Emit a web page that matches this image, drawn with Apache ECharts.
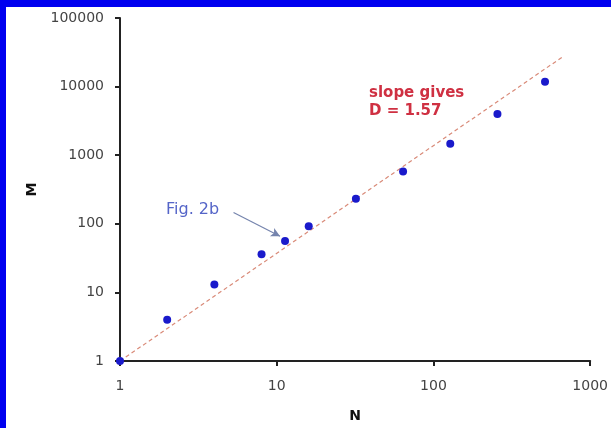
<!DOCTYPE html>
<html>
<head>
<meta charset="utf-8">
<script src="https://cdn.jsdelivr.net/npm/echarts@6/dist/echarts.min.js"></script>
<style>
  html, body { margin: 0; padding: 0; background: #fff; }
  #main { width: 611px; height: 428px; }
</style>
</head>
<body>
<div id="main"></div>
<script>
// measured points, N vs M
var nValues = [1, 2, 4, 8, 11.3, 16, 32, 64, 128, 256, 515];
var mValues = [1, 4, 13, 36, 56, 92, 232, 578, 1470, 4000, 11800];

// dashed fit line end points
var fitN = [1, 680];
var fitM = [1, 28000];

// arrow pointing at Fig. 2b point
var arrowFrom = [5.3, 146];
var arrowTo = [10.5, 66];

var points = nValues.map(function (n, i) { return [n, mValues[i]]; });
var fitLine = fitN.map(function (n, i) { return [n, fitM[i]]; });

var chart = echarts.init(document.getElementById('main'));

// plain numbers, no thousands separator
function plain(v) { return String(Math.round(v)); }

var axisText = { color: '#444', fontSize: 14, fontFamily: 'DejaVu Sans', formatter: plain };

var option = {
    backgroundColor: '#fff',
    animation: false,
    grid: { left: 120, top: 18, right: 20, bottom: 66 },
    xAxis: {
        type: 'log',
        logBase: 10,
        min: 1,
        max: 1000,
        name: 'N',
        nameLocation: 'middle',
        nameGap: 48,
        nameTextStyle: { fontWeight: 'bold', fontSize: 14, color: '#111', fontFamily: 'DejaVu Sans' },
        axisLine: { lineStyle: { color: '#222', width: 2 } },
        axisTick: { show: true, length: 5, lineStyle: { color: '#222', width: 2 } },
        axisLabel: Object.assign({ margin: 18 }, axisText),
        splitLine: { show: false },
        minorTick: { show: false }
    },
    yAxis: {
        type: 'log',
        logBase: 10,
        min: 1,
        max: 100000,
        name: 'M',
        nameLocation: 'middle',
        nameRotate: 90,
        nameGap: 79,
        nameTextStyle: { fontWeight: 'bold', fontSize: 14, color: '#111', fontFamily: 'DejaVu Sans' },
        axisLine: { lineStyle: { color: '#222', width: 2 } },
        axisTick: { show: true, length: 5, lineStyle: { color: '#222', width: 2 } },
        axisLabel: Object.assign({ margin: 16 }, axisText),
        splitLine: { show: false }
    },
    series: [
        {
            type: 'line',
            data: fitLine,
            symbol: 'none',
            silent: true,
            lineStyle: { color: '#d98a78', width: 1.2, type: [4, 3] },
            markLine: {
                silent: true,
                symbol: ['none', 'arrow'],
                symbolSize: [7, 9],
                label: { show: false },
                lineStyle: { color: '#7584ad', width: 1.2, type: 'solid' },
                data: [[{ coord: arrowFrom }, { coord: arrowTo }]]
            },
            z: 2
        },
        {
            type: 'scatter',
            data: points,
            symbolSize: 8,
            itemStyle: { color: '#1a1acb', opacity: 1 },
            z: 3
        }
    ],
    graphic: [
        // blue frame around the picture
        { type: 'rect', shape: { x: 0, y: 0, width: 611, height: 7 }, style: { fill: '#0000f0' }, z: 100 },
        { type: 'rect', shape: { x: 0, y: 0, width: 6, height: 428 }, style: { fill: '#0000f0' }, z: 100 },
        {
            type: 'text', left: 369, top: 84,
            style: {
                text: 'slope gives\nD = 1.57',
                fill: '#cf3042',
                font: 'bold 15px "DejaVu Sans"',
                lineHeight: 18
            }
        },
        {
            type: 'text', left: 166, top: 202,
            style: {
                text: 'Fig. 2b',
                fill: '#5565c8',
                font: '16px "DejaVu Sans"'
            }
        }
    ]
};

chart.setOption(option);
</script>
</body>
</html>
